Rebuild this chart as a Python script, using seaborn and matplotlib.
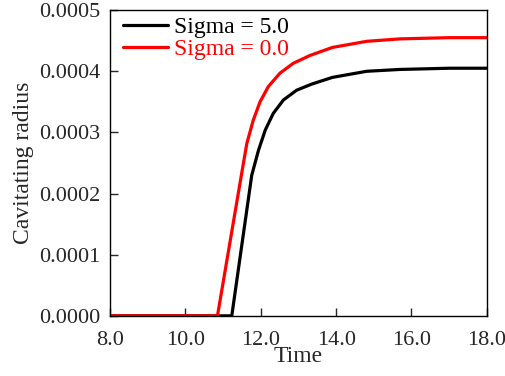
import pandas as pd
import seaborn as sns
import matplotlib.pyplot as plt

# values
time_s5 = [8.0, 11.23, 11.76, 11.94, 12.12, 12.33, 12.60, 12.95, 13.35, 13.9, 14.81, 15.69, 17.0, 18.0]
radius_s5 = [0.0, 0.0, 2.30e-4, 2.71e-4, 3.04e-4, 3.31e-4, 3.53e-4, 3.69e-4, 3.79e-4, 3.90e-4,
             4.00e-4, 4.03e-4, 4.05e-4, 4.05e-4]

time_s0 = [8.0, 10.85, 11.49, 11.63, 11.80, 11.98, 12.2, 12.51, 12.86, 13.31, 13.9, 14.81, 15.69, 17.0, 18.0]
radius_s0 = [0.0, 0.0, 2.32e-4, 2.82e-4, 3.20e-4, 3.50e-4, 3.75e-4, 3.97e-4, 4.13e-4, 4.26e-4, 4.39e-4,
             4.49e-4, 4.53e-4, 4.55e-4, 4.55e-4]

labels = ['Sigma = 5.0', 'Sigma = 0.0']
colors = ['black', 'red']

df = pd.concat([
    pd.DataFrame({'Time': time_s5, 'Radius': radius_s5, 'Case': labels[0]}),
    pd.DataFrame({'Time': time_s0, 'Radius': radius_s0, 'Case': labels[1]}),
])

sns.set_style('ticks')
plt.rcParams['font.family'] = ['Liberation Serif', 'DejaVu Serif']

fig = plt.figure(figsize=(5.05, 3.76), dpi=100)
ax = fig.add_axes([0.218, 0.160, 0.746, 0.813])

sns.lineplot(data=df, x='Time', y='Radius', hue='Case', hue_order=labels,
             palette=colors, linewidth=2.3, sort=False, estimator=None, ax=ax)

ax.set_xlim(8, 18)
ax.set_ylim(0, 0.0005)
ax.set_xticks([8, 10, 12, 14, 16, 18])
ax.set_xticklabels(['8.0', '10.0', '12.0', '14.0', '16.0', '18.0'])
ax.set_yticks([0, 0.0001, 0.0002, 0.0003, 0.0004, 0.0005])
ax.set_yticklabels(['0.0000', '0.0001', '0.0002', '0.0003', '0.0004', '0.0005'])
ax.tick_params(direction='in', labelsize=16, length=6, width=1)
ax.tick_params(axis='x', pad=11)
ax.tick_params(axis='y', pad=7)
ax.set_xlabel('Time', fontsize=17, labelpad=-3)
ax.set_ylabel('Cavitating radius', fontsize=17, labelpad=4)
for s in ax.spines.values():
    s.set_linewidth(1)
    s.set_color('black')

leg = ax.legend(loc='upper left', bbox_to_anchor=(0.013, 1.005), frameon=False, fontsize=17,
                handlelength=1.9, handletextpad=0.25, borderaxespad=0.1, borderpad=0.25,
                labelspacing=0.0)
for txt, c in zip(leg.get_texts(), colors):
    txt.set_color(c)

plt.savefig('out.png', dpi=100)
